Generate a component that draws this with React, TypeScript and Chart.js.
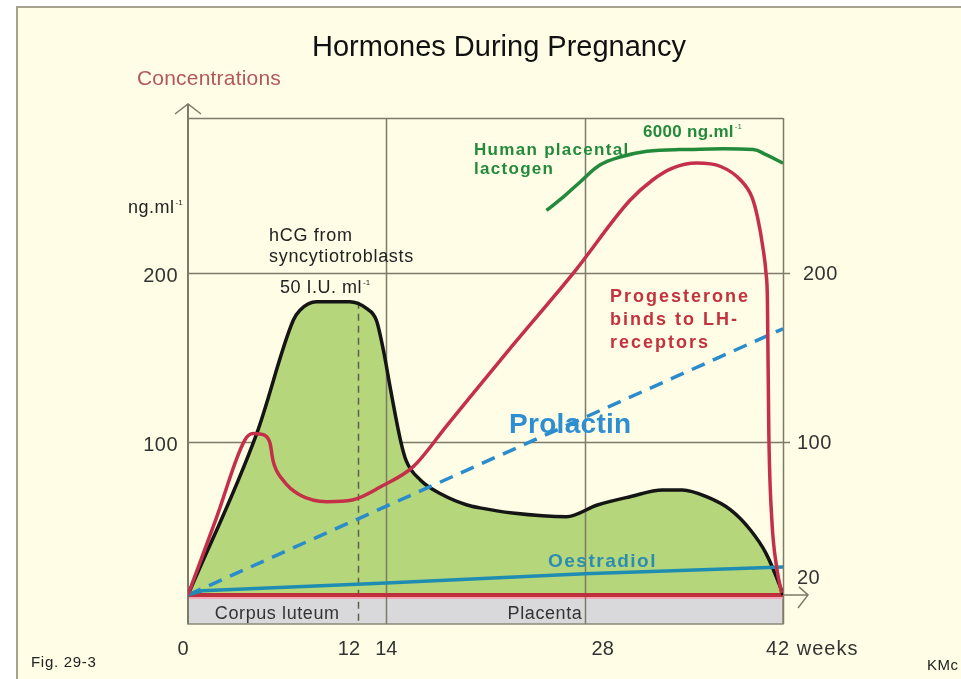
import React, { useEffect, useRef } from "react";
import { Chart, registerables } from "chart.js";

Chart.register(...registerables);

// ---------- data (weeks of pregnancy / schematic concentration units) ----------
const BASELINE = 9.5;
const Y_MIN = -7.7;
const Y_MAX = 291.7;
const WEEK_MIN = 0;
const WEEK_MAX = 42;

const hcgWeeks = [0, 4.85, 7.43, 7.9, 9.08, 11.4, 12.6, 13.3, 13.8, 14.3, 15.0, 15.4, 16.4, 18.0, 19.7, 20.6, 22.9, 26.7, 28.9, 31.2, 33.5, 34.9, 36.6, 38.3, 39.7, 40.8, 41.8, 42];
const hcgValues = [9.5, 105, 172, 178, 183, 183, 179, 172, 154, 131, 101, 89, 77.5, 68.6, 62.7, 61, 58, 55.8, 62.7, 67.6, 71.6, 71.6, 67.6, 59.8, 47.9, 34.1, 14.4, 9.5];

const progWeeks = [0, 2, 4.0, 4.6, 5.4, 5.8, 6.0, 6.7, 7.9, 9.8, 11.6, 13.6, 15.9, 18.3, 22.9, 27.3, 31.2, 32.8, 34.2, 35.9, 37.6, 39.0, 39.8, 40.2, 40.6, 40.8, 40.9, 41.0, 41.2, 41.55, 41.9];
const progValues = [9.5, 55, 101, 105, 104, 99, 89, 77.5, 68.6, 64.7, 65.7, 73.5, 85.4, 110, 157, 201, 243, 255, 262, 265, 263, 255, 245, 233, 214, 200, 184, 105, 55.6, 26, 10.7];

const hplWeeks = [25.3, 26.5, 27.7, 29.1, 30.5, 32.4, 34.7, 39.9, 40.8, 42];
const hplValues = [237, 245, 254, 264, 268.6, 272, 273, 273, 270, 265];

const prolactinWeeks = [0, 42];
const prolactinValues = [9.5, 167];

const oestradiolWeeks = [0, 1, 14, 28, 42];
const oestradiolValues = [9.5, 12, 16.5, 22, 26];

const xTickValues = [0, 12, 14, 28, 42];
const xTickLabels = ["0", "12", "14", "28", "42 weeks"];
const leftTickValues = [100, 200];
const rightTickValues = [20, 100, 200];

const solidPhaseLines = [14, 28, 42];
const dashedPhaseLine = 12;
const phaseLabels = ["Corpus luteum", "Placenta"];
const phaseLabelWeeks = [6.3, 25.2];

// ---------- styling ----------
const FONT = '"Liberation Sans", Arial, sans-serif';
const FRAME = "#7d7b68";
const RED = "#c4304a";
const BLACK = "#151515";
const GREEN_FILL = "#b5d67a";
const HPL_GREEN = "#238a3c";
const PROL_BLUE = "#2b8ccc";
const OES_BLUE = "#1f8db2";

function pts(xs: number[], ys: number[]) {
  return xs.map((x, i) => ({ x, y: ys[i] }));
}

function text(
  ctx: CanvasRenderingContext2D,
  s: string,
  x: number,
  y: number,
  font: string,
  color: string,
  align: CanvasTextAlign = "left",
  spacing = 0,
  sup?: string,
  supFont?: string
) {
  ctx.save();
  ctx.font = font;
  (ctx as any).letterSpacing = `${spacing}px`;
  ctx.fillStyle = color;
  ctx.textAlign = align;
  ctx.textBaseline = "alphabetic";
  ctx.fillText(s, x, y);
  if (sup) {
    const w = ctx.measureText(s).width;
    ctx.font = supFont || `9px ${FONT}`;
    (ctx as any).letterSpacing = "0px";
    ctx.textAlign = "left";
    const sx = align === "center" ? x + w / 2 : align === "right" ? x : x + w;
    ctx.fillText(sup, sx + 1, y - 8);
  }
  ctx.restore();
}

const decorPlugin = {
  id: "decor",
  beforeDraw(chart: any) {
    const { ctx, chartArea: a, scales } = chart;
    const y = scales.y;
    ctx.save();
    // page background + outer picture frame
    ctx.fillStyle = "#ffffff";
    ctx.fillRect(0, 0, chart.width, chart.height);
    ctx.fillStyle = "#fffde6";
    ctx.fillRect(17, 7, chart.width - 17, chart.height - 7);
    ctx.strokeStyle = "#a5a390";
    ctx.lineWidth = 2;
    ctx.beginPath();
    ctx.moveTo(17, chart.height);
    ctx.lineTo(17, 7);
    ctx.lineTo(chart.width, 7);
    ctx.stroke();

    // horizontal grid lines
    ctx.strokeStyle = FRAME;
    ctx.lineWidth = 1.5;
    leftTickValues.forEach((v) => {
      const py = Math.round(y.getPixelForValue(v)) + 0.5;
      ctx.beginPath();
      ctx.moveTo(a.left, py);
      ctx.lineTo(a.right + 7, py);
      ctx.stroke();
    });

    // grey phase bar below the baseline
    const by = y.getPixelForValue(BASELINE);
    ctx.fillStyle = "#d9d9db";
    ctx.fillRect(a.left, by, a.right - a.left, a.bottom - by);
    ctx.strokeStyle = "#8a897a";
    ctx.lineWidth = 1.5;
    ctx.strokeRect(a.left, by, a.right - a.left, a.bottom - by);
    ctx.strokeStyle = "#f4a8b6";
    ctx.lineWidth = 2;
    ctx.beginPath();
    ctx.moveTo(a.left, by + 3);
    ctx.lineTo(a.right, by + 3);
    ctx.stroke();
    ctx.restore();
  },
  beforeDatasetsDraw(chart: any) {
    const { ctx, chartArea: a, scales } = chart;
    const x = scales.x;
    const y = scales.y;
    ctx.save();
    ctx.strokeStyle = FRAME;
    ctx.lineWidth = 1.5;
    // solid phase lines
    solidPhaseLines.forEach((w) => {
      const px = Math.round(x.getPixelForValue(w)) + 0.5;
      ctx.beginPath();
      ctx.moveTo(px, a.top);
      ctx.lineTo(px, a.bottom);
      ctx.stroke();
    });
    // top frame
    ctx.beginPath();
    ctx.moveTo(a.left, a.top + 0.5);
    ctx.lineTo(a.right, a.top + 0.5);
    ctx.stroke();
    // dashed line at end of corpus luteum phase
    const peak = Math.max(...hcgValues);
    const dx = Math.round(x.getPixelForValue(dashedPhaseLine)) + 0.5;
    ctx.setLineDash([7, 5]);
    ctx.strokeStyle = "#5f5e4c";
    ctx.beginPath();
    ctx.moveTo(dx, y.getPixelForValue(peak));
    ctx.lineTo(dx, a.bottom);
    ctx.stroke();
    ctx.setLineDash([]);

    // y axis with arrow
    ctx.strokeStyle = FRAME;
    ctx.lineWidth = 2;
    const lx = a.left;
    ctx.beginPath();
    ctx.moveTo(lx, a.bottom);
    ctx.lineTo(lx, a.top - 14);
    ctx.stroke();
    ctx.lineWidth = 1.5;
    ctx.beginPath();
    ctx.moveTo(lx - 13, a.top - 4);
    ctx.lineTo(lx, a.top - 14);
    ctx.lineTo(lx + 13, a.top - 4);
    ctx.stroke();

    // x arrow at the baseline
    const by = y.getPixelForValue(BASELINE);
    ctx.beginPath();
    ctx.moveTo(a.right, by);
    ctx.lineTo(a.right + 25, by);
    ctx.moveTo(a.right + 16, by - 8);
    ctx.lineTo(a.right + 25, by);
    ctx.lineTo(a.right + 15, by + 13);
    ctx.stroke();
    ctx.restore();
  },
  afterDraw(chart: any) {
    const { ctx, chartArea: a, scales } = chart;
    const x = scales.x;
    const y = scales.y;
    const reg = (s: number) => `${s}px ${FONT}`;
    const bold = (s: number) => `bold ${s}px ${FONT}`;

    text(ctx, "Hormones During Pregnancy", 499, 56, reg(29), "#111", "center");
    text(ctx, "Concentrations", 137, 85, reg(21), "#b3575b", "left", 0.2);
    text(ctx, "ng.ml", 128, 213, reg(18), "#222", "left", 0.5, "-1", reg(8));

    // y tick labels
    leftTickValues.forEach((v) => {
      text(ctx, String(v), a.left - 10, y.getPixelForValue(v) + 9, reg(20), "#333", "right", 0.5);
    });
    rightTickValues.forEach((v) => {
      text(ctx, String(v), a.right + 14 + (v === 200 ? 6 : 0), y.getPixelForValue(v) + 7, reg(20), "#333", "left", 0.5);
    });

    // x tick labels
    xTickValues.forEach((w, i) => {
      const px = x.getPixelForValue(w);
      const lab = xTickLabels[i];
      if (i === 0) text(ctx, lab, px - 5, 655, reg(20), "#333", "center");
      else if (w === 12) text(ctx, lab, px + 2, 655, reg(20), "#333", "right");
      else if (i === xTickLabels.length - 1) text(ctx, lab, px - 17, 655, reg(20), "#333", "left", 1);
      else if (w === 28) text(ctx, lab, px + 18, 655, reg(20), "#333", "center");
      else text(ctx, lab, px, 655, reg(20), "#333", "center");
    });

    // phase labels
    phaseLabels.forEach((lab, i) => {
      text(ctx, lab, x.getPixelForValue(phaseLabelWeeks[i]), 619, reg(18), "#333", "center", 0.6);
    });

    // curve annotations
    text(ctx, "hCG from", 269, 241, reg(18), "#222", "left", 0.7);
    text(ctx, "syncytiotroblasts", 269, 262, reg(18), "#222", "left", 0.7);
    text(ctx, "50 I.U. ml", 280, 293, reg(18), "#222", "left", 0.5, "-1", reg(8));

    text(ctx, "Human placental", 474, 155, bold(17), HPL_GREEN, "left", 1.3);
    text(ctx, "lactogen", 474, 174, bold(17), HPL_GREEN, "left", 1.3);
    text(ctx, "6000 ng.ml", 643, 137, bold(17), HPL_GREEN, "left", 0.3, "-1", reg(8));

    text(ctx, "Progesterone", 610, 302, bold(18), "#c3323e", "left", 2);
    text(ctx, "binds to LH-", 610, 325, bold(18), "#c3323e", "left", 2);
    text(ctx, "receptors", 610, 348, bold(18), "#c3323e", "left", 2);

    text(ctx, "Prolactin", 509, 433, bold(28), "#2d8fd2", "left", 0.3);
    text(ctx, "Oestradiol", 548, 567, bold(19), "#2c8db0", "left", 1.5);

    text(ctx, "Fig. 29-3", 31, 667, reg(15), "#222", "left", 0.7);
    text(ctx, "KMc", 927, 670, reg(15), "#222", "left", 0.5);
  },
};

export default function App() {
  const ref = useRef<HTMLCanvasElement | null>(null);

  useEffect(() => {
    if (!ref.current) return;
    const chart = new Chart(ref.current, {
      type: "line",
      data: {
        datasets: [
          {
            label: "Progesterone",
            data: pts(progWeeks, progValues),
            borderColor: RED,
            borderWidth: 3.5,
            cubicInterpolationMode: "monotone",
            fill: false,
            order: 1,
          },
          {
            label: "Oestradiol",
            data: pts(oestradiolWeeks, oestradiolValues),
            borderColor: OES_BLUE,
            borderWidth: 3.5,
            tension: 0,
            fill: false,
            order: 2,
          },
          {
            label: "Prolactin",
            data: pts(prolactinWeeks, prolactinValues),
            borderColor: PROL_BLUE,
            borderWidth: 3.5,
            borderDash: [14, 9],
            tension: 0,
            fill: false,
            order: 3,
          },
          {
            label: "hCG",
            data: pts(hcgWeeks, hcgValues),
            borderColor: BLACK,
            borderWidth: 3.5,
            backgroundColor: GREEN_FILL,
            cubicInterpolationMode: "monotone",
            fill: { value: BASELINE },
            order: 4,
          },
          {
            label: "Human placental lactogen",
            data: pts(hplWeeks, hplValues),
            borderColor: HPL_GREEN,
            borderWidth: 3.5,
            tension: 0.4,
            fill: false,
            order: 5,
          },
          {
            label: "Baseline",
            data: pts([WEEK_MIN, WEEK_MAX], [BASELINE, BASELINE]),
            borderColor: "#c0303c",
            borderWidth: 4,
            tension: 0,
            fill: false,
            order: 6,
          },
        ],
      },
      options: {
        animation: false,
        responsive: false,
        devicePixelRatio: 1,
        layout: { padding: { left: 188, right: 178, top: 118, bottom: 55 } },
        elements: { point: { radius: 0, hoverRadius: 0 } },
        scales: {
          x: { type: "linear", min: WEEK_MIN, max: WEEK_MAX, display: false },
          y: { type: "linear", min: Y_MIN, max: Y_MAX, display: false },
        },
        plugins: {
          legend: { display: false },
          tooltip: { enabled: false },
          filler: { drawTime: "beforeDatasetsDraw" },
        },
        events: [],
      } as any,
      plugins: [decorPlugin],
    });
    return () => chart.destroy();
  }, []);

  return (
    <div style={{ position: "fixed", left: 0, top: 0, width: 961, height: 679 }}>
      <canvas ref={ref} width={961} height={679} style={{ display: "block" }} />
    </div>
  );
}
